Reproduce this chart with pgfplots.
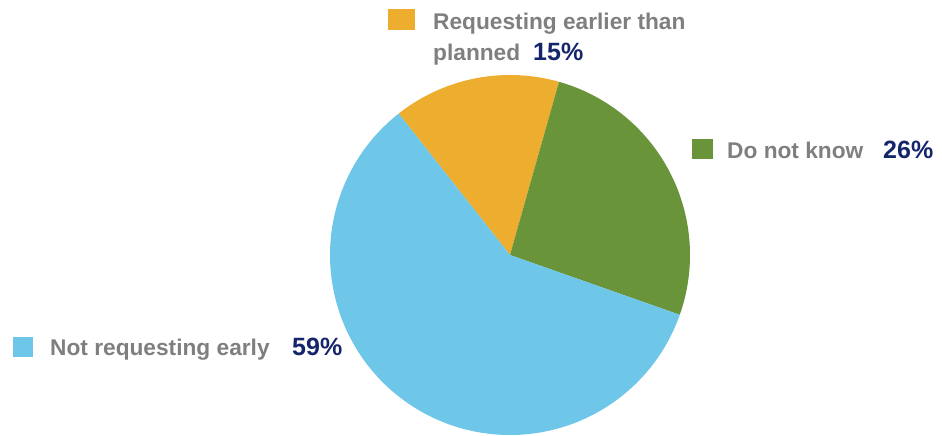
\documentclass[border=0pt]{standalone}
\usepackage{pgfplots}
\pgfplotsset{compat=1.18}
\usepackage{fontspec}
\setmainfont{Liberation Sans}
\definecolor{cOrange}{HTML}{EDAE2F}
\definecolor{cGreen}{HTML}{69943A}
\definecolor{cBlue}{HTML}{6EC6E8}
\definecolor{cGray}{HTML}{7F7F7F}
\definecolor{cNavy}{HTML}{14256B}
% data (percent)
\def\vEarly{15}
\def\vDontKnow{26}
\def\vNot{59}
\def\startAngle{128.2}
\pgfmathsetmacro{\aA}{\startAngle}
\pgfmathsetmacro{\aB}{\aA-3.6*\vEarly}
\pgfmathsetmacro{\aC}{\aB-3.6*\vDontKnow}
\pgfmathsetmacro{\aD}{\aC-3.6*\vNot}
\def\cx{510}
\def\cy{255}
\def\rr{180}
\begin{document}
\begin{tikzpicture}
\begin{axis}[
  scale only axis, width=942pt, height=436pt,
  xmin=0, xmax=942, ymin=0, ymax=436, y dir=reverse,
  hide axis, clip=false,
]
\path (axis cs:0,0) rectangle (axis cs:942,436);
\addplot[fill=cOrange, draw=none, domain=\aB:\aA, samples=80, variable=\t]
  ({\cx+\rr*cos(\t)},{\cy-\rr*sin(\t)}) -- (axis cs:\cx,\cy) -- cycle;
\addplot[fill=cGreen, draw=none, domain=\aC:\aB, samples=120, variable=\t]
  ({\cx+\rr*cos(\t)},{\cy-\rr*sin(\t)}) -- (axis cs:\cx,\cy) -- cycle;
\addplot[fill=cBlue, draw=none, domain=\aD:\aC, samples=240, variable=\t]
  ({\cx+\rr*cos(\t)},{\cy-\rr*sin(\t)}) -- (axis cs:\cx,\cy) -- cycle;
% legend-like labels
\fill[cOrange] (axis cs:388,9) rectangle (axis cs:415,30);
\fill[cGreen] (axis cs:692,139) rectangle (axis cs:713,159);
\fill[cBlue] (axis cs:13,337) rectangle (axis cs:33,357);
\node[anchor=base west, inner sep=0pt, text=cGray, font=\fontsize{22.7}{30}\selectfont\bfseries] at (axis cs:433,30) {Requesting earlier than};
\node[anchor=base west, inner sep=0pt, text=cGray, font=\fontsize{22.7}{30}\selectfont\bfseries] at (axis cs:433,60) {planned};
\node[anchor=base west, inner sep=0pt, text=cNavy, font=\fontsize{25}{30}\selectfont\bfseries] at (axis cs:533,60) {15\%};
\node[anchor=base west, inner sep=0pt, text=cGray, font=\fontsize{22.7}{30}\selectfont\bfseries] at (axis cs:727,158) {Do not know};
\node[anchor=base west, inner sep=0pt, text=cNavy, font=\fontsize{25}{30}\selectfont\bfseries] at (axis cs:883,158) {26\%};
\node[anchor=base west, inner sep=0pt, text=cGray, font=\fontsize{22.7}{30}\selectfont\bfseries] at (axis cs:50,355) {Not requesting early};
\node[anchor=base west, inner sep=0pt, text=cNavy, font=\fontsize{25}{30}\selectfont\bfseries] at (axis cs:292,355) {59\%};
\end{axis}
\end{tikzpicture}
\end{document}
